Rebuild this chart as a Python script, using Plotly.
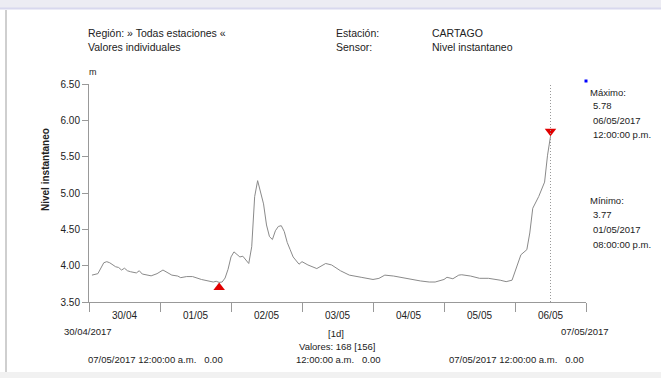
import pandas as pd
import plotly.graph_objects as go

# ---- data ----
start = "2017-04-30 00:00"
hours = [1,3,5,6,7,9,10,11,12,13,14,16,17,18,21,22,23,25,26,28,30,31,33,35,38,40,42,43,44,45,
         46,47,48,49,50,51,52,53,54,55,56,57,58,59,60,61,62,63,64,65,66,67,68,69,71,72,74,77,80,82,
         85,88,92,96,98,100,103,107,112,115,117,120,121,123,125,126,129,132,135,139,
         141,143,145,146,148,149,150,152,154,155,156]
nivel = [3.87,3.89,4.04,4.055,4.04,3.985,3.975,3.94,3.965,3.93,3.917,3.9,3.93,3.885,3.86,3.87,3.89,3.94,3.917,3.87,
         3.857,3.835,3.85,3.85,3.81,3.79,3.775,3.785,3.77,3.775,3.83,3.95,4.12,4.19,4.16,4.12,4.13,4.08,4.03,4.26,
         4.95,5.17,5.02,4.85,4.56,4.40,4.36,4.48,4.54,4.55,4.47,4.32,4.22,4.12,4.02,4.055,4.01,3.96,4.03,4.01,
         3.93,3.87,3.84,3.81,3.825,3.87,3.857,3.826,3.79,3.775,3.775,3.81,3.84,3.82,3.87,3.875,3.857,3.826,3.826,3.80,
         3.78,3.80,4.055,4.15,4.22,4.45,4.79,4.95,5.15,5.52,5.78]
day_labels = ["30/04", "01/05", "02/05", "03/05", "04/05", "05/05", "06/05"]
y_ticks = [3.5, 4.0, 4.5, 5.0, 5.5, 6.0, 6.5]

t0 = pd.Timestamp(start)
times = [t0 + pd.Timedelta(hours=h) for h in hours]
n_days = 7
t_end = t0 + pd.Timedelta(days=n_days)
label_pos = [t0 + pd.Timedelta(days=i, hours=12) for i in range(len(day_labels))]
day_edges = [t0 + pd.Timedelta(days=i) for i in range(n_days + 1)]

imax = max(range(len(nivel)), key=lambda i: nivel[i])
imin = min(range(len(nivel)), key=lambda i: nivel[i])

# ---- geometry ----
W, H = 661, 378
L, R, T, B = 89, 586, 84, 302
def px(x): return (x - L) / (R - L)
def py(y): return (B - y) / (B - T)
ymin, ymax = 3.5, 6.5
unit = (ymax - ymin) / (B - T)  # data units per pixel

FONT = "Liberation Sans, Arial, sans-serif"
TXT = "#222"

fig = go.Figure()
fig.add_trace(go.Scatter(x=times, y=nivel, mode="lines",
                         line=dict(color="#8a8a8a", width=1), hoverinfo="x+y", showlegend=False))
fig.add_trace(go.Scatter(x=[times[imax]], y=[nivel[imax] + 5 * unit], mode="markers",
                         marker=dict(symbol="triangle-down", color="#e00000", size=10,
                                     line=dict(width=0)), showlegend=False))
fig.add_trace(go.Scatter(x=[times[imin]], y=[nivel[imin] - 5 * unit], mode="markers",
                         marker=dict(symbol="triangle-up", color="#e00000", size=10,
                                     line=dict(width=0)), showlegend=False))

# dotted line at maximum
fig.add_shape(type="line", xref="x", yref="paper", x0=times[imax], x1=times[imax], y0=0, y1=1,
              line=dict(color="#999", width=1, dash="1px,2px"))

# frame decorations
fig.add_shape(type="rect", xref="paper", yref="paper", x0=px(0), x1=px(W), y0=py(0), y1=py(8),
              fillcolor="#ececf3", line=dict(width=0), layer="below")
fig.add_shape(type="line", xref="paper", yref="paper", x0=px(0), x1=px(W), y0=py(8.5), y1=py(8.5),
              line=dict(color="#d8d8ee", width=2))
fig.add_shape(type="line", xref="paper", yref="paper", x0=px(6), x1=px(6), y0=py(10), y1=py(372),
              line=dict(color="#cfcfcf", width=2))
fig.add_shape(type="rect", xref="paper", yref="paper", x0=px(0), x1=px(W), y0=py(372), y1=py(H),
              fillcolor="#f1f1f1", line=dict(width=0), layer="below")
# blue square
fig.add_shape(type="rect", xref="paper", yref="paper", x0=px(584.5), x1=px(587.5), y0=py(79.5), y1=py(82.5),
              fillcolor="#0000ff", line=dict(width=0))

def note(text, x, y, xanchor="left", size=10, bold=False, angle=0):
    fig.add_annotation(text=("<b>%s</b>" % text) if bold else text, xref="paper", yref="paper",
                       x=px(x), y=py(y), xanchor=xanchor, yanchor="middle", showarrow=False,
                       textangle=angle, font=dict(family=FONT, size=size, color=TXT))

note("Región: » Todas estaciones «", 86, 33, size=10.5)
note("Valores individuales", 86, 47.5, size=10.5)
note("Estación:", 334, 33, size=10.5)
note("Sensor:", 334, 47.5, size=10.5)
note("CARTAGO", 430, 33, size=10.5)
note("Nivel instantaneo", 430, 47.5, size=10.5)
note("m", 87, 72, size=9)
note("Nivel instantaneo", 45, 170, xanchor="center", size=10, bold=True, angle=-90)

note("Máximo:", 588, 92, size=9.5)
note("%.2f" % nivel[imax], 591, 106, size=9.5)
note(times[imax].strftime("%d/%m/%Y"), 591, 120, size=9.5)
note("12:00:00 p.m.", 591, 134, size=9.5)
note("Mínimo:", 588, 200, size=9.5)
note("%.2f" % nivel[imin], 591, 214, size=9.5)
note(times[imin].strftime("%d/%m/%Y"), 591, 229, size=9.5)
note("08:00:00 p.m.", 591, 244, size=9.5)

note(t0.strftime("%d/%m/%Y"), 88, 331, xanchor="center", size=9.5)
note(t_end.strftime("%d/%m/%Y"), 585, 331, xanchor="center", size=9.5)
note("[1d]", 336, 333, xanchor="center", size=9.5)
note("Valores: 168 [156]", 337, 346.5, xanchor="center", size=9.5)
note("07/05/2017 12:00:00 a.m.   0.00", 86, 359.5, size=9.5)
note("12:00:00 a.m.   0.00", 338, 359.5, xanchor="center", size=9.5)
note("07/05/2017 12:00:00 a.m.   0.00", 586, 359.5, xanchor="right", size=9.5)

fig.update_xaxes(type="date", range=[t0, t_end], showgrid=False, zeroline=False,
                 showline=True, linecolor="#999", linewidth=1,
                 tickmode="array", tickvals=label_pos, ticktext=day_labels, ticks="",
                 ticklabelstandoff=4,
                 tickfont=dict(family=FONT, size=10, color=TXT),
                 minor=dict(tickmode="array", tickvals=day_edges, ticks="outside", ticklen=9,
                            tickcolor="#999", showgrid=False))
fig.update_yaxes(range=[ymin, ymax], showgrid=False, zeroline=False,
                 showline=True, linecolor="#999", linewidth=1,
                 tickmode="array", tickvals=y_ticks, ticktext=["%.2f" % v for v in y_ticks],
                 ticks="outside", ticklen=6, tickcolor="#999",
                 tickfont=dict(family=FONT, size=10, color=TXT))

fig.update_layout(width=W, height=H, margin=dict(l=L, r=W - R, t=T, b=H - B),
                  paper_bgcolor="white", plot_bgcolor="white", showlegend=False)

fig.write_html("out.html", config={"displayModeBar": False},
               post_script="document.body.style.margin='0';document.body.style.overflow='hidden';")
